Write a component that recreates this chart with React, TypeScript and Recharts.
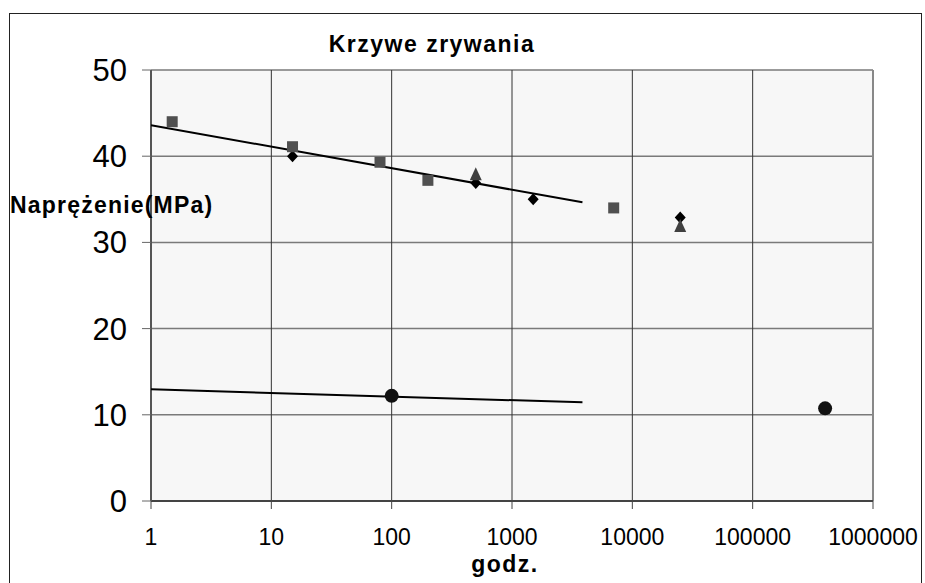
import {
  ReferenceLine,
  CartesianGrid,
  Scatter,
  ScatterChart,
  XAxis,
  YAxis,
} from 'recharts';

// hours (log axis) and stress values
const diamondHours = [15, 500, 1500, 25000];
const diamondStress = [40.0, 36.9, 35.0, 32.9];

const squareHours = [1.5, 15, 80, 200, 7000];
const squareStress = [44.0, 41.1, 39.3, 37.2, 34.0];

const triangleHours = [500, 25000];
const triangleStress = [37.9, 31.9];

const circleHours = [100, 400000];
const circleStress = [12.2, 10.75];

// trend lines (start / end points)
const upperTrendHours = [1, 3850];
const upperTrendStress = [43.6, 34.65];
const lowerTrendHours = [1, 3850];
const lowerTrendStress = [12.95, 11.45];

const xTicks = [1, 10, 100, 1000, 10000, 100000, 1000000];
const yTicks = [0, 10, 20, 30, 40, 50];

const zip = (xs: number[], ys: number[]) => xs.map((x, i) => ({ x, y: ys[i] }));

const diamonds = zip(diamondHours, diamondStress);
const squares = zip(squareHours, squareStress);
const triangles = zip(triangleHours, triangleStress);
const circles = zip(circleHours, circleStress);
const upperTrend = zip(upperTrendHours, upperTrendStress);
const lowerTrend = zip(lowerTrendHours, lowerTrendStress);

const font = '"Liberation Sans", Arial, sans-serif';

const Square = ({ cx, cy }: any) => (
  <rect x={cx - 5.5} y={cy - 5.5} width={11} height={11} fill="#505050" />
);
const Diamond = ({ cx, cy }: any) => (
  <polygon
    points={`${cx},${cy - 6} ${cx + 5.5},${cy} ${cx},${cy + 6} ${cx - 5.5},${cy}`}
    fill="#000"
  />
);
const Triangle = ({ cx, cy }: any) => (
  <polygon
    points={`${cx},${cy - 7} ${cx + 6},${cy + 6} ${cx - 6},${cy + 6}`}
    fill="#404040"
  />
);
const Dot = ({ cx, cy }: any) => <circle cx={cx} cy={cy} r={7} fill="#111" />;
const NoShape = () => <g />;

export default function App() {
  return (
    <div
      style={{
        position: 'absolute',
        left: 9,
        top: 13,
        width: 913,
        height: 600,
        border: '1px solid #222',
        boxSizing: 'border-box',
        overflow: 'hidden',
        background: '#fff',
        fontFamily: font,
      }}
    >
      <ScatterChart
        width={911}
        height={586}
        margin={{ top: 56, right: 48, bottom: 39, left: 0 }}
      >
        <CartesianGrid fill="#f7f7f7" vertical={false} stroke="#7a7a7a" strokeWidth={1.5} />
        <CartesianGrid horizontal={false} stroke="#333" strokeWidth={1} />
        <XAxis
          type="number"
          dataKey="x"
          scale="log"
          domain={[1, 1000000]}
          ticks={xTicks}
          interval={0}
          allowDataOverflow
          height={60}
          tickSize={8}
          tickMargin={20}
          axisLine={{ stroke: '#444', strokeWidth: 2 }}
          tickLine={{ stroke: '#444' }}
          tick={{ fontSize: 23, fill: '#000', fontFamily: font }}
        />
        <YAxis
          type="number"
          dataKey="y"
          domain={[0, 50]}
          ticks={yTicks}
          interval={0}
          width={141}
          tickSize={9}
          tickMargin={15}
          axisLine={{ stroke: '#555', strokeWidth: 2 }}
          tickLine={{ stroke: '#666' }}
          tick={{ fontSize: 31, fill: '#000', fontFamily: font }}
        />
        <ReferenceLine x={1000000} stroke="#888" strokeWidth={2} />
        <Scatter
          data={upperTrend}
          line={{ stroke: '#000', strokeWidth: 2 }}
          shape={NoShape}
          isAnimationActive={false}
        />
        <Scatter
          data={lowerTrend}
          line={{ stroke: '#000', strokeWidth: 2 }}
          shape={NoShape}
          isAnimationActive={false}
        />
        <Scatter data={diamonds} shape={Diamond} isAnimationActive={false} />
        <Scatter data={squares} shape={Square} isAnimationActive={false} />
        <Scatter data={triangles} shape={Triangle} isAnimationActive={false} />
        <Scatter data={circles} shape={Dot} isAnimationActive={false} />
      </ScatterChart>
      <svg
        width={911}
        height={586}
        style={{ position: 'absolute', left: 0, top: 0, pointerEvents: 'none' }}
      >
        <text
          x={422}
          y={38}
          textAnchor="middle"
          fontSize={23}
          fontWeight="bold"
          letterSpacing={1.5}
          fontFamily={font}
        >
          Krzywe zrywania
        </text>
        <text
          x={0}
          y={199}
          fontSize={23}
          fontWeight="bold"
          letterSpacing={1.2}
          fontFamily={font}
        >
          Naprężenie(MPa)
        </text>
        <text
          x={495}
          y={558}
          textAnchor="middle"
          fontSize={23}
          fontWeight="bold"
          letterSpacing={1.5}
          fontFamily={font}
        >
          godz.
        </text>
      </svg>
    </div>
  );
}
